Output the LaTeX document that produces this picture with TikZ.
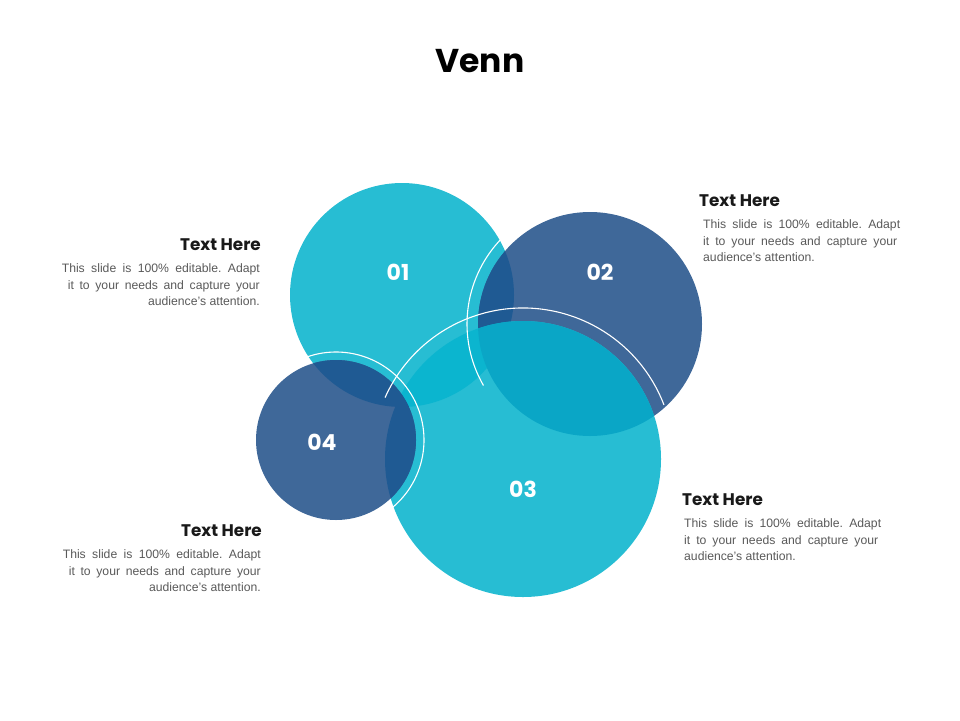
\documentclass[tikz,border=0pt]{standalone}
\usepackage{fontspec}
\setmainfont{Liberation Sans}
\newfontfamily\pop{Poppins}
\frenchspacing
\definecolor{teal1}{HTML}{27BDD3}
\definecolor{teal2}{HTML}{0BB5CF}
\definecolor{teal3}{HTML}{0AA6C6}
\definecolor{navy1}{HTML}{3F6899}
\definecolor{navy2}{HTML}{1F5A93}
\definecolor{bodygray}{HTML}{595959}
\tikzset{
  head/.style={font=\pop\bfseries\fontsize{16.8}{18}\selectfont, text=black!90, inner sep=0pt},
  bodytxt/.style={font=\fontsize{12.2}{16.5}\selectfont, text=bodygray, inner sep=0pt},
  num/.style={font=\pop\bfseries\fontsize{22}{24}\selectfont, text=white, inner sep=0pt},
  ring/.style={draw=white, line width=1.1pt},
}
\newcommand{\cA}{(402,295) circle[radius=112]}
\newcommand{\cB}{(590,324) circle[radius=112]}
\newcommand{\cC}{(523,459) circle[radius=138]}
\newcommand{\cD}{(336,440) circle[radius=80]}
\begin{document}
\begin{tikzpicture}[x=1pt,y=-1pt]
\useasboundingbox (0,0) rectangle (960,720);
% base circles
\fill[teal1] \cA;
\fill[navy1] \cB;
\fill[teal1] \cC;
\fill[navy1] \cD;
% overlaps
\begin{scope}\clip \cA; \fill[navy2] \cB; \end{scope}
\begin{scope}\clip \cA; \fill[teal2] \cC; \end{scope}
\begin{scope}\clip \cB; \fill[teal3] \cC; \end{scope}
\begin{scope}\clip \cD; \fill[navy2] \cA; \fill[navy2] \cC; \end{scope}
% white rings
\draw[ring] (590,324) ++(-137:123) arc[start angle=-137, end angle=-210, radius=123];
\draw[ring] (523,459) ++(-21:151) arc[start angle=-21, end angle=-156, radius=151];
\draw[ring] (336,440) ++(50:88) arc[start angle=50, end angle=-110, radius=88];
% numbers
\node[num] (n1) at (398,272) {01};
\node[num] (n2) at (600,272) {02};
\node[num] (n3) at (523,489) {03};
\node[num] (n4) at (322,442) {04};
% title
\node[font=\pop\bfseries\fontsize{33}{36}\selectfont, inner sep=0pt] (title) at (480,61) {Venn};
% text blocks
\node[head, anchor=east] (h1) at (261,245) {Text Here};
\node[bodytxt, anchor=north east, align=right] (b1) at (260,263.5)
  {\makebox[198pt][s]{This slide is 100\% editable. Adapt}\\
   \makebox[192pt][s]{it to your needs and capture your}\\
   audience's attention.};
\node[head, anchor=east] (h4) at (262,531) {Text Here};
\node[bodytxt, anchor=north east, align=right] (b4) at (261,549.5)
  {\makebox[198pt][s]{This slide is 100\% editable. Adapt}\\
   \makebox[192pt][s]{it to your needs and capture your}\\
   audience's attention.};
\node[head, anchor=west] (h2) at (699,201) {Text Here};
\node[bodytxt, anchor=north west, align=left] (b2) at (703,219.5)
  {\makebox[197pt][s]{This slide is 100\% editable. Adapt}\\
   \makebox[194pt][s]{it to your needs and capture your}\\
   audience's attention.};
\node[head, anchor=west] (h3) at (682,500) {Text Here};
\node[bodytxt, anchor=north west, align=left] (b3) at (684,518.5)
  {\makebox[197pt][s]{This slide is 100\% editable. Adapt}\\
   \makebox[194pt][s]{it to your needs and capture your}\\
   audience's attention.};
\end{tikzpicture}
\end{document}
